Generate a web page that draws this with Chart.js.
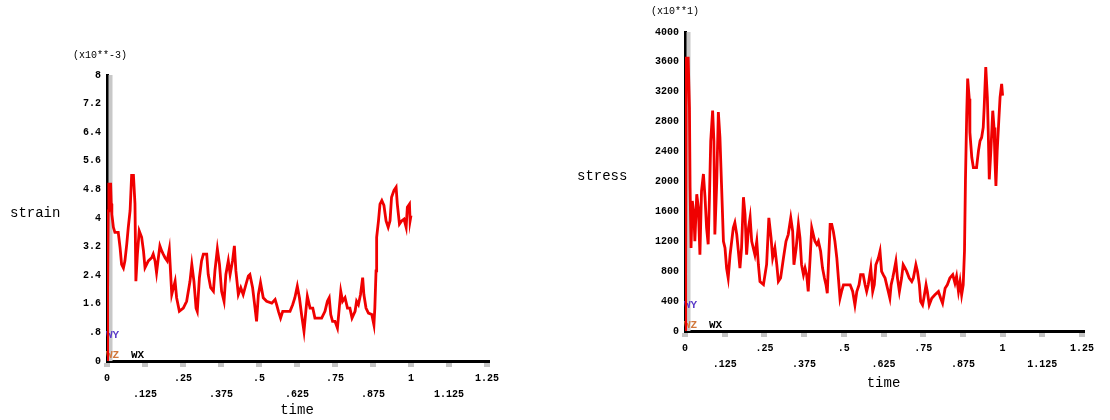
<!DOCTYPE html>
<html>
<head>
<meta charset="utf-8">
<script src="https://cdn.jsdelivr.net/npm/chart.js@4.4.0/dist/chart.umd.min.js"></script>
<style>
  body { margin: 0; background: #fff; }
  .box { position: absolute; top: 0; width: 555px; height: 420px; }
</style>
</head>
<body>
<div class="box" style="left:0"><canvas id="strainChart"></canvas></div>
<div class="box" style="left:555px"><canvas id="stressChart"></canvas></div>
<script>
// shared time axis
const timeTicks = [0, .125, .25, .375, .5, .625, .75, .875, 1, 1.125, 1.25];
const timeTickLabels = ['0', '.125', '.25', '.375', '.5', '.625', '.75', '.875', '1', '1.125', '1.25'];

// strain (x10**-3)
const strainTicks = [0, .8, 1.6, 2.4, 3.2, 4, 4.8, 5.6, 6.4, 7.2, 8];
const strainTickLabels = ['0', '.8', '1.6', '2.4', '3.2', '4', '4.8', '5.6', '6.4', '7.2', '8'];
const strainTime = [0, .002, .004, .006, .012, .014, .016, .021, .026, .037, .043, .048, .054, .059, .065, .070, .076, .081, .087, .092,
  .095, .100, .106, .114, .120, .125, .136, .147, .152, .158, .163, .169, .174, .180, .185, .191, .198, .205, .213, .224,
  .229, .238, .251, .262, .273, .279, .286, .293, .297, .304, .311, .317, .328, .333, .341, .350, .355, .363, .370, .377,
  .385, .391, .399, .405, .413, .419, .424, .432, .440, .448, .457, .465, .470, .479, .487, .492, .498, .505, .514, .525,
  .542, .553, .558, .564, .571, .578, .602, .611, .618, .626, .633, .640, .648, .655, .659, .668, .677, .684, .706, .717,
  .725, .731, .736, .742, .750, .758, .764, .769, .775, .783, .791, .799, .806, .816, .821, .827, .834, .841, .845, .852,
  .860, .871, .878, .881, .885, .887, .893, .898, .904, .911, .918, .925, .931, .936, .944, .951, .955, .962, .969, .977,
  .984, .988, .995, .997, 1];
const strainValues = [0, 2.0, 4.2, 4.95, 4.95, 4.4, 4.1, 3.74, 3.6, 3.6, 3.17, 2.7, 2.6, 2.8, 3.27, 3.74, 4.21, 5.19, 5.19, 4.4,
  2.23, 2.99, 3.64, 3.46, 3.08, 2.61, 2.8, 2.89, 2.99, 2.8, 2.47, 2.89, 3.22, 3.08, 2.99, 2.89, 2.8, 3.13, 1.86, 2.23,
  1.77, 1.39, 1.48, 1.67, 2.23, 2.7, 2.23, 1.48, 1.39, 2.33, 2.8, 2.99, 2.99, 2.42, 2.05, 1.95, 2.52, 3.13, 2.7, 1.95,
  1.67, 2.42, 2.8, 2.42, 2.8, 3.22, 2.52, 1.86, 2.05, 1.86, 2.14, 2.38, 2.42, 2.05, 1.48, 1.11, 1.86, 2.19, 1.77, 1.67,
  1.62, 1.72, 1.58, 1.39, 1.2, 1.39, 1.39, 1.58, 1.77, 2.09, 1.77, 1.3, .83, 1.48, 1.81, 1.48, 1.48, 1.2, 1.2, 1.39,
  1.67, 1.77, 1.3, 1.11, 1.11, .92, 1.48, 1.95, 1.67, 1.77, 1.48, 1.48, 1.2, 1.39, 1.67, 1.58, 1.86, 2.33, 1.86, 1.48,
  1.34, 1.3, 1.01, 1.48, 2.52, 3.46, 3.92, 4.39, 4.49, 4.35, 3.92, 3.74, 3.92, 4.58, 4.77, 4.86, 4.39, 3.83, 3.92, 3.97,
  3.74, 4.3, 4.39, 3.92, 4.07];

// stress (x10**1)
const stressTicks = [0, 400, 800, 1200, 1600, 2000, 2400, 2800, 3200, 3600, 4000];
const stressTickLabels = ['0', '400', '800', '1200', '1600', '2000', '2400', '2800', '3200', '3600', '4000'];
const stressTime = [0, .002, .004, .010, .014, .016, .019, .023, .028, .031, .037, .042, .047, .052, .058, .063, .068, .073, .077, .081,
  .087, .091, .094, .100, .105, .110, .115, .121, .126, .131, .136, .142, .147, .152, .157, .163, .168, .173, .178, .184,
  .189, .194, .200, .205, .210, .215, .220, .226, .231, .236, .247, .257, .264, .271, .276, .283, .289, .294, .301, .310,
  .318, .325, .333, .339, .343, .350, .357, .362, .367, .373, .378, .383, .388, .394, .399, .404, .409, .415, .420, .427,
  .433, .439, .444, .448, .452, .457, .462, .467, .472, .478, .483, .488, .493, .499, .520, .528, .535, .541, .548, .553,
  .561, .567, .572, .577, .585, .591, .596, .601, .609, .614, .619, .624, .630, .635, .640, .645, .649, .654, .658, .664,
  .669, .675, .682, .687, .693, .698, .706, .714, .719, .727, .732, .738, .742, .748, .752, .759, .763, .769, .777, .787,
  .798, .805, .811, .819, .826, .834, .843, .850, .855, .861, .866, .871, .876, .880, .883, .887, .890, .895, .897, .903,
  .908, .918, .924, .929, .934, .939, .942, .947, .952, .955, .958, .963, .969, .973, .976, .979, .983, .988, .992, .997, 1];
const stressValues = [0, 750, 3650, 3650, 2990, 1920, 1110, 1740, 1560, 1200, 1830, 1650, 1020, 1870, 2100, 1790, 1380, 1160, 1790, 2540,
  2950, 2540, 1290, 2000, 2930, 2590, 1960, 1200, 1110, 840, 710, 1020, 1200, 1380, 1450, 1290, 1070, 840, 1110, 1790,
  1560, 1020, 1380, 1520, 1200, 1110, 1020, 1200, 890, 660, 620, 890, 1514, 1245, 977, 1110, 887, 663, 708, 977,
  1200, 1290, 1514, 1335, 887, 1110, 1425, 1245, 887, 753, 842, 753, 529, 977, 1380, 1290, 1200, 1156, 1200, 1066,
  842, 708, 618, 506, 932, 1425, 1425, 1335, 1200, 977, 708, 439, 529, 618, 618, 529, 349, 529, 618, 753,
  753, 618, 529, 618, 842, 529, 618, 887, 977, 1066, 797, 753, 708, 618, 529, 439, 618, 708, 797, 932,
  708, 529, 708, 887, 842, 797, 708, 663, 708, 887, 797, 618, 394, 349, 439, 618, 529, 349, 439, 484,
  529, 439, 372, 573, 618, 708, 753, 640, 730, 529, 663, 484, 618, 1066, 2007, 2900, 3377, 3108, 2656, 2320,
  2185, 2185, 2410, 2544, 2589, 2723, 2992, 3530, 3126, 2636, 2029, 2410, 2947, 2723, 2275, 1939, 2410, 2813, 3126, 3306, 3150];

const MONO = "'Liberation Mono', 'DejaVu Sans Mono', monospace";
const tickFont = { family: MONO, size: 10, weight: 'bold', lineHeight: 1.6 };

// grey shadow strip next to the y axis, then the free text labels
const overlay = {
  id: 'overlay',
  beforeDatasetsDraw(chart, args, opts) {
    const { ctx, chartArea: a } = chart;
    ctx.save();
    ctx.fillStyle = '#c8c8c8';
    ctx.fillRect(a.left + 1.5, a.top, 4, a.bottom - a.top);
    ctx.textBaseline = 'middle';
    for (const t of opts.texts || []) {
      ctx.font = t.font;
      ctx.fillStyle = t.color || '#000';
      ctx.textAlign = t.align || 'left';
      ctx.fillText(t.text, t.x, t.y);
    }
    ctx.restore();
  }
};

function makeChart(id, c) {
  return new Chart(document.getElementById(id), {
    type: 'line',
    data: {
      datasets: [{
        data: c.times.map((t, i) => ({ x: t, y: c.values[i] })),
        borderColor: '#f00000', borderWidth: 2.8, pointRadius: 0, tension: 0
      }]
    },
    options: {
      responsive: true, maintainAspectRatio: false, animation: false,
      layout: { padding: c.pad },
      plugins: { legend: { display: false }, tooltip: { enabled: false }, overlay: { texts: c.texts } },
      scales: {
        x: {
          type: 'linear', min: 0, max: 1.25,
          afterBuildTicks: s => { s.ticks = timeTicks.map(v => ({ value: v })); },
          afterFit: s => { s.height = c.xHeight; },
          ticks: {
            autoSkip: false, maxRotation: 0, padding: 3, color: '#000', font: tickFont,
            callback: (v, i) => i % 2 ? ['', timeTickLabels[i]] : timeTickLabels[i]
          },
          grid: { drawOnChartArea: false, tickLength: 6, lineWidth: 6, color: '#c4c4c4' },
          border: { color: '#000', width: 3 },
          title: { display: true, text: 'time', color: '#000', padding: 0, font: { family: MONO, size: 14 } }
        },
        y: {
          type: 'linear', min: 0, max: c.yTicks[c.yTicks.length - 1],
          afterBuildTicks: s => { s.ticks = c.yTicks.map(v => ({ value: v })); },
          afterFit: s => { s.width = c.yWidth; },
          ticks: { autoSkip: false, padding: 6, color: '#000', font: tickFont, callback: (v, i) => c.yLabels[i] },
          grid: { drawOnChartArea: false, drawTicks: false },
          border: { color: '#000', width: 3 }
        }
      }
    },
    plugins: [overlay]
  });
}

const smallFont = `bold 11px ${MONO}`;
const expFont = `10px ${MONO}`;
const nameFont = `14px ${MONO}`;

makeChart('strainChart', {
  times: strainTime, values: strainValues, yTicks: strainTicks, yLabels: strainTickLabels,
  yWidth: 107, xHeight: 57.4, pad: { left: 0, right: 68, top: 75, bottom: 1.6 },
  texts: [
    { text: '(x10**-3)', x: 100, y: 55, font: expFont, align: 'center' },
    { text: 'strain', x: 10, y: 213, font: nameFont },
    { text: 'WY', x: 106, y: 335, font: smallFont, color: '#5a3cc8' },
    { text: 'WZ', x: 106, y: 355, font: smallFont, color: '#d2783c' },
    { text: 'WX', x: 131, y: 355, font: smallFont }
  ]
});

makeChart('stressChart', {
  times: stressTime, values: stressValues, yTicks: stressTicks, yLabels: stressTickLabels,
  yWidth: 130, xHeight: 60.4, pad: { left: 0, right: 28, top: 32, bottom: 28.6 },
  texts: [
    { text: '(x10**1)', x: 120, y: 11, font: expFont, align: 'center' },
    { text: 'stress', x: 22, y: 176, font: nameFont },
    { text: 'WY', x: 129, y: 305, font: smallFont, color: '#5a3cc8' },
    { text: 'WZ', x: 129, y: 325, font: smallFont, color: '#d2783c' },
    { text: 'WX', x: 154, y: 325, font: smallFont }
  ]
});
</script>
</body>
</html>
